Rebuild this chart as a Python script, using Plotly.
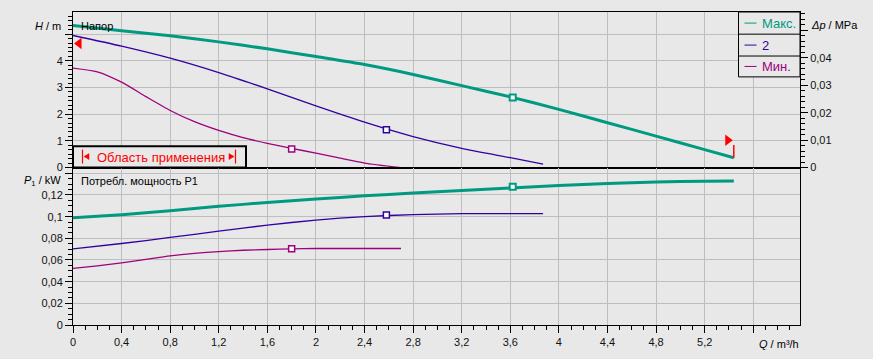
import plotly.graph_objects as go

# ---------------- data ----------------
series_names = ["Макс.", "2", "Мин."]
series_colors = ["#009A80", "#3300A0", "#9E007E"]

q_max = [0, 0.4, 0.8, 1.2, 1.6, 2.0, 2.4, 2.8, 3.2, 3.6, 4.0, 4.4, 4.8, 5.2, 5.44]
h_max = [5.32, 5.13, 4.94, 4.71, 4.45, 4.16, 3.86, 3.49, 3.07, 2.65, 2.18, 1.68, 1.18, 0.67, 0.37]
p_max = [0.099, 0.1018, 0.1055, 0.1095, 0.1131, 0.1163, 0.1192, 0.1218, 0.1242, 0.1265, 0.1287, 0.1306, 0.1320, 0.1327, 0.1328]

q_2 = [0, 0.4, 0.8, 1.2, 1.6, 2.0, 2.4, 2.8, 3.2, 3.6, 3.87]
h_2 = [4.95, 4.55, 4.10, 3.56, 2.95, 2.31, 1.70, 1.16, 0.72, 0.37, 0.13]
p_2 = [0.0703, 0.0752, 0.0808, 0.0866, 0.0922, 0.0968, 0.1000, 0.1019, 0.1027, 0.1028, 0.1028]

q_min = [0, 0.2, 0.4, 0.6, 0.8, 1.0, 1.2, 1.4, 1.6, 1.8, 2.0, 2.2, 2.4, 2.7]
h_min = [3.73, 3.59, 3.20, 2.66, 2.14, 1.72, 1.39, 1.12, 0.91, 0.72, 0.54, 0.35, 0.17, 0.0]
p_min = [0.0523, 0.0546, 0.0573, 0.0606, 0.0638, 0.0661, 0.0678, 0.0690, 0.0697, 0.0703, 0.0706, 0.0706, 0.0706, 0.0706]

# duty points (open squares)
duty_q = [3.62, 2.58, 1.80]
duty_h = [2.63, 1.42, 0.70]
duty_p = [0.1275, 0.1015, 0.0703]

# operating range limit markers
limit_q = [0.05, 5.39]
limit_h = [4.65, 1.02]
limit_symbols = ["triangle-left", "triangle-right"]
limit_bar_h_top = 0.85

# ticks
x_ticks = [0, 0.4, 0.8, 1.2, 1.6, 2.0, 2.4, 2.8, 3.2, 3.6, 4.0, 4.4, 4.8, 5.2, 5.6]
x_labels = ["0", "0,4", "0,8", "1,2", "1,6", "2", "2,4", "2,8", "3,2", "3,6", "4", "4,4", "4,8", "5,2", ""]
h_ticks = [0, 1, 2, 3, 4, 5]
h_labels = ["0", "1", "2", "3", "4", ""]
dp_ticks = [0, 0.01, 0.02, 0.03, 0.04, 0.05]
dp_labels = ["0", "0,01", "0,02", "0,03", "0,04", ""]
p_ticks = [0, 0.02, 0.04, 0.06, 0.08, 0.1, 0.12, 0.14]
p_labels = ["0", "0,02", "0,04", "0,06", "0,08", "0,1", "0,12", ""]

# ---------------- figure ----------------
FONT = "Liberation Sans, Arial, sans-serif"
BG = "#E8E8E8"
GRID = "#BEBEBE"
W, H = 873, 359
ML, MR, MT, MB = 73, 73, 11, 33
PW, PH = W - ML - MR, H - MT - MB


def px(x):
    return (x - ML) / PW


def py(y):
    return (H - MB - y) / PH


fig = go.Figure()

qs = [q_max, q_2, q_min]
hs = [h_max, h_2, h_min]
ps = [p_max, p_2, p_min]
lw = [3, 1.3, 1.3]
mlw = [2, 1.5, 1.5]

for i in range(3):
    fig.add_trace(go.Scatter(x=qs[i], y=hs[i], mode="lines", xaxis="x", yaxis="y",
                             line=dict(color=series_colors[i], width=lw[i], shape="spline", smoothing=0.6),
                             showlegend=False, hoverinfo="skip"))
    fig.add_trace(go.Scatter(x=qs[i], y=ps[i], mode="lines", xaxis="x2", yaxis="y2",
                             line=dict(color=series_colors[i], width=lw[i], shape="spline", smoothing=0.6),
                             showlegend=False, hoverinfo="skip"))
    fig.add_trace(go.Scatter(x=[duty_q[i]], y=[duty_h[i]], mode="markers", xaxis="x", yaxis="y",
                             marker=dict(symbol="square", size=6, color="white",
                                         line=dict(color=series_colors[i], width=mlw[i])),
                             showlegend=False, hoverinfo="skip"))
    fig.add_trace(go.Scatter(x=[duty_q[i]], y=[duty_p[i]], mode="markers", xaxis="x2", yaxis="y2",
                             marker=dict(symbol="square", size=6, color="white",
                                         line=dict(color=series_colors[i], width=mlw[i])),
                             showlegend=False, hoverinfo="skip"))

# limit markers
fig.add_trace(go.Scatter(x=limit_q, y=limit_h, mode="markers", xaxis="x", yaxis="y",
                         marker=dict(symbol=limit_symbols, size=10, color="#FF0000"),
                         showlegend=False, hoverinfo="skip"))
fig.add_trace(go.Scatter(x=[q_max[-1], q_max[-1]], y=[h_max[-1], limit_bar_h_top], mode="lines",
                         xaxis="x", yaxis="y", line=dict(color="#FF0000", width=1.5),
                         showlegend=False, hoverinfo="skip"))

split = 0.503
axis_common = dict(showline=True, linecolor="black", linewidth=1, zeroline=False,
                   tickfont=dict(family=FONT, size=11, color="#111111"),
                   tickcolor="black", tickwidth=1)

fig.update_layout(
    width=W, height=H,
    margin=dict(l=ML, r=MR, t=MT, b=MB),
    paper_bgcolor=BG, plot_bgcolor=BG,
    font=dict(family=FONT, size=11, color="black"),
    showlegend=False,
    xaxis=dict(domain=[0, 1], anchor="y", range=[0, 5.985], tickmode="array", tickvals=x_ticks,
               ticktext=x_labels, showticklabels=False, ticks="", showgrid=True, gridcolor=GRID,
               gridwidth=1, mirror=True, **axis_common),
    xaxis2=dict(domain=[0, 1], anchor="y2", range=[0, 5.985], tickmode="array", tickvals=x_ticks,
                ticktext=x_labels, ticks="outside", ticklen=7, showgrid=True, gridcolor=GRID,
                gridwidth=1, mirror=True,
                minor=dict(dtick=0.1, tick0=0, ticks="outside", ticklen=4, tickcolor="black", showgrid=False),
                **axis_common),
    yaxis=dict(domain=[split, 1], anchor="x", range=[0, 5.83], tickmode="array", tickvals=h_ticks,
               ticktext=h_labels, ticks="outside", ticklen=7, showgrid=True, gridcolor=GRID,
               gridwidth=1, mirror=True,
               minor=dict(dtick=1 / 6, tick0=0, ticks="outside", ticklen=4, tickcolor="black", showgrid=False),
               **axis_common),
    yaxis3=dict(overlaying="y", side="right", anchor="x", range=[0, 0.0567], tickmode="array",
                tickvals=dp_ticks, ticktext=dp_labels, ticks="outside", ticklen=7, showgrid=False,
                minor=dict(dtick=0.002, tick0=0, ticks="outside", ticklen=4, tickcolor="black", showgrid=False),
                **axis_common),
    yaxis2=dict(domain=[0, split], anchor="x2", range=[0, 0.1453], tickmode="array", tickvals=p_ticks,
                ticktext=p_labels, ticks="outside", ticklen=7, showgrid=True, gridcolor=GRID,
                gridwidth=1, mirror=True,
                minor=dict(dtick=0.005, tick0=0, ticks="outside", ticklen=4, tickcolor="black", showgrid=False),
                **axis_common),
)

# dummy trace to make yaxis3 render
fig.add_trace(go.Scatter(x=[None], y=[None], xaxis="x", yaxis="y3", showlegend=False, hoverinfo="skip"))

shapes = []
annotations = []

# application-area box
shapes.append(dict(type="rect", xref="paper", yref="paper", x0=0, x1=px(246), y0=split, y1=py(146),
                   line=dict(color="black", width=2), fillcolor=BG, layer="above"))
for xb in (82.5, 235.5):
    shapes.append(dict(type="line", xref="paper", yref="paper", x0=px(xb), x1=px(xb), y0=py(149.5),
                       y1=py(163.5), line=dict(color="#FF0000", width=1.2), layer="above"))
# small triangles beside bars
shapes.append(dict(type="path", xref="paper", yref="paper", layer="above",
                   path=f"M {px(84)} {py(156.5)} L {px(89)} {py(153.5)} L {px(89)} {py(159.5)} Z",
                   fillcolor="#FF0000", line=dict(color="#FF0000", width=0.5)))
shapes.append(dict(type="path", xref="paper", yref="paper", layer="above",
                   path=f"M {px(234)} {py(156.5)} L {px(229)} {py(153.5)} L {px(229)} {py(159.5)} Z",
                   fillcolor="#FF0000", line=dict(color="#FF0000", width=0.5)))
annotations.append(dict(text="Область применения", xref="paper", yref="paper", x=px(94.5), y=py(157),
                        xanchor="left", yanchor="middle", showarrow=False,
                        font=dict(family=FONT, size=13, color="#FF0000")))

# legend box
lx0, lx1 = px(738.5), 1.0
row_edges = [11, 33.3, 55.3, 76.3]
shapes.append(dict(type="rect", xref="paper", yref="paper", x0=lx0, x1=lx1, y0=py(row_edges[-1]),
                   y1=py(row_edges[0]), line=dict(color="black", width=1), fillcolor=BG, layer="above"))
for ye in row_edges[1:-1]:
    shapes.append(dict(type="line", xref="paper", yref="paper", x0=lx0, x1=lx1, y0=py(ye), y1=py(ye),
                       line=dict(color="black", width=1), layer="above"))
for i, name in enumerate(series_names):
    yc = (row_edges[i] + row_edges[i + 1]) / 2
    shapes.append(dict(type="line", xref="paper", yref="paper", x0=px(744.5), x1=px(756.5),
                       y0=py(yc), y1=py(yc), line=dict(color=series_colors[i], width=1), layer="above"))
    annotations.append(dict(text=name, xref="paper", yref="paper", x=px(760), y=py(yc),
                            xanchor="left", yanchor="middle", showarrow=False,
                            font=dict(family=FONT, size=13, color=series_colors[i])))

# axis titles & panel labels
annotations += [
    dict(text="<i>H</i> / m", xref="paper", yref="paper", x=px(63), y=py(25), xanchor="right",
         yanchor="middle", showarrow=False, font=dict(family=FONT, size=11)),
    dict(text="Напор", xref="paper", yref="paper", x=px(78.5), y=py(25), xanchor="left",
         yanchor="middle", showarrow=False, font=dict(family=FONT, size=11)),
    dict(text="<i>P</i><sub>1</sub> / kW", xref="paper", yref="paper", x=px(63), y=py(181),
         xanchor="right", yanchor="middle", showarrow=False, font=dict(family=FONT, size=11)),
    dict(text="Потребл. мощность P1", xref="paper", yref="paper", x=px(78.5), y=py(181),
         xanchor="left", yanchor="middle", showarrow=False, font=dict(family=FONT, size=11)),
    dict(text="<i>Δp</i> / MPa", xref="paper", yref="paper", x=px(809), y=py(24.5),
         xanchor="left", yanchor="middle", showarrow=False, font=dict(family=FONT, size=11)),
    dict(text="<i>Q</i> / m³/h", xref="paper", yref="paper", x=px(801), y=py(345),
         xanchor="right", yanchor="middle", showarrow=False, font=dict(family=FONT, size=11)),
]

fig.update_layout(shapes=shapes, annotations=annotations)
fig.write_html("out.html", config={"displayModeBar": False},
               post_script="document.body.style.margin='0';document.body.style.padding='0';")
